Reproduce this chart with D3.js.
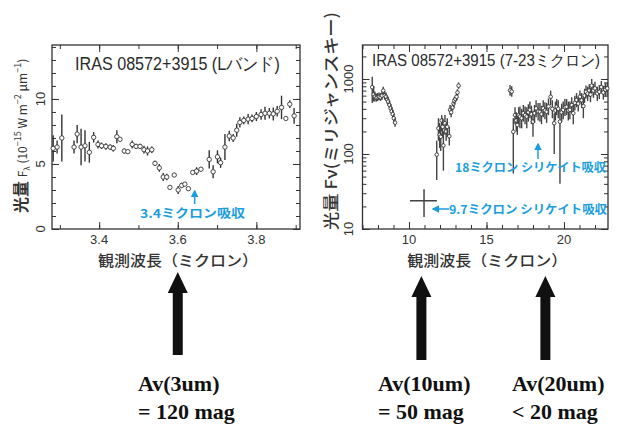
<!DOCTYPE html>
<html lang="ja">
<head>
<meta charset="UTF-8">
<title>IRAS 08572+3915</title>
<script src="https://d3js.org/d3.v7.min.js"></script>
<style>
  body { margin: 0; background: #fff; }
  svg { display: block; }
  .frame { fill: none; stroke: #333; stroke-width: 1.3px; }
  .axis line { stroke: #333; }
  .axis path { display: none; }
  .tl { font-family: "Liberation Sans", Arial, sans-serif; font-size: 13px; fill: #333; }
  .jp { font-family: "Noto Sans CJK JP", sans-serif; fill: #333; }
  .title { font-family: "Liberation Sans Narrow", "Liberation Sans", sans-serif; fill: #2a2a2a; }
  .note { font-family: "Noto Sans CJK JP", sans-serif; font-size: 12px; font-weight: 700; fill: #1a9ee0; }
  .av { font-family: "Liberation Serif", "Times New Roman", serif; font-weight: 700; font-size: 22px; fill: #111; }
</style>
</head>
<body>
<svg width="621" height="428"></svg>
<script>
// L band spectrum (10^-15 W m^-2 um^-1)
const lbWave = [3.283, 3.293, 3.305, 3.336, 3.344, 3.354, 3.364, 3.375, 3.386, 3.397,
  3.406, 3.417, 3.428, 3.436, 3.445, 3.453, 3.464, 3.473, 3.484, 3.494,
  3.504, 3.514, 3.523, 3.534, 3.542, 3.553, 3.563, 3.572, 3.580, 3.591,
  3.601, 3.610, 3.618, 3.627, 3.638, 3.648, 3.659, 3.680, 3.690, 3.701,
  3.709, 3.720, 3.731, 3.741, 3.750, 3.758, 3.768, 3.779, 3.789, 3.800,
  3.812, 3.822, 3.833, 3.843, 3.853, 3.864, 3.875, 3.885, 3.896];
const lbFlux = [6.2, 6.3, 7.0, 6.3, 7.3, 6.3, 6.4, 5.9, 7.05, 6.5,
  6.4, 6.35, 6.3, 6.2, 7.1, 6.9, 6.0, 5.95, 6.5, 6.35,
  6.35, 6.1, 6.0, 6.1, 5.05, 4.7, 4.0, 4.0, 3.2, 4.15,
  3.0, 3.35, 3.45, 3.1, 4.35, 4.45, 4.6, 5.35, 4.4, 5.55,
  5.1, 6.3, 7.15, 7.0, 7.6, 8.2, 8.35, 8.45, 8.5, 8.65,
  8.8, 8.9, 8.9, 8.85, 9.05, 9.35, 8.5, 9.6, 8.7];
const lbErr = [1.0, 0.5, 1.8, 0.5, 0.7, 1.4, 1.2, 0.8, 0.4, 0.3,
  0.25, 0.25, 0.2, 0.25, 0.5, 0.1, 0.2, 0.15, 0.3, 0.2,
  0.2, 0.3, 0.35, 0.25, 0.2, 0.3, 0.3, 0.25, 0.1, 0.15,
  0.3, 0.2, 0.15, 0.1, 0.15, 0.3, 0.15, 0.7, 0.5, 0.5,
  0.4, 1.0, 0.4, 0.3, 0.5, 0.4, 0.3, 0.4, 0.3, 0.35,
  0.4, 0.5, 0.4, 0.5, 0.4, 0.9, 0.1, 0.3, 0.6];

// 7-23 micron spectrum (mJy)
const irWave = [7.63, 7.72, 7.80, 7.90, 7.98, 8.07, 8.17, 8.26, 8.34, 8.43,
  8.52, 8.60, 8.66, 8.74, 8.82, 8.88, 8.95, 9.02, 9.10,
  11.79, 11.90, 11.98, 12.05, 12.11, 12.17, 12.22, 12.32, 12.40, 12.47,
  12.60, 12.65, 12.72, 12.82, 12.88, 12.92, 13.00, 13.07, 13.13, 13.20,
  16.52, 16.63, 16.73, 16.84, 16.92, 16.99, 17.08, 17.16, 17.27, 17.38,
  17.49, 17.60, 17.70, 17.80, 17.90, 18.00, 18.10, 18.20, 18.33, 18.45,
  18.55, 18.66, 18.77, 18.88, 19.00, 19.14, 19.25, 19.37, 19.45, 19.53,
  19.63, 19.74, 19.85, 19.95, 20.06, 20.17, 20.28, 20.38, 20.50, 20.60,
  20.70, 20.81, 20.92, 21.03, 21.14, 21.25, 21.33, 21.42, 21.53, 21.63,
  21.71, 21.79, 21.90, 22.00, 22.15, 22.28, 22.41, 22.54, 22.67, 22.79];
const irFlux = [776, 620, 580, 560, 570, 580, 570, 600, 700, 600,
  580, 530, 500, 450, 406, 370, 340, 300, 262,
  98, 220, 180, 170, 280, 230, 130, 257, 200, 230,
  173, 388, 360, 418, 470, 515, 540, 580, 660, 815,
  705, 680, 198, 330, 280, 244, 330, 315, 300, 350,
  330, 315, 360, 388, 340, 270, 350, 406, 370, 365,
  340, 406, 380, 365, 430, 580, 400, 257, 380, 426,
  400, 270, 360, 388, 420, 426, 380, 388, 450, 350,
  480, 525, 470, 580, 520, 435, 600, 675, 640, 705,
  620, 815, 700, 750, 640, 675, 780, 660, 720, 750];
const irLo = [480, 500, 500, 500, 510, 520, 510, 530, 620, 530,
  510, 470, 440, 400, 360, 330, 300, 260, 230,
  45, 150, 120, 110, 200, 170, 60, 180, 150, 170,
  130, 330, 310, 380, 420, 460, 490, 520, 600, 740,
  600, 580, 55, 250, 200, 180, 250, 220, 220, 270,
  250, 220, 270, 300, 250, 170, 260, 310, 280, 270,
  250, 310, 290, 260, 330, 450, 300, 100, 280, 330,
  300, 40, 270, 290, 320, 330, 280, 290, 350, 250,
  380, 420, 370, 470, 410, 300, 480, 550, 510, 580,
  490, 650, 560, 610, 510, 540, 640, 530, 580, 600];
const irHi = [1070, 800, 680, 640, 650, 660, 650, 680, 790, 680,
  660, 600, 570, 510, 460, 420, 390, 340, 300,
  150, 300, 260, 240, 330, 300, 200, 330, 260, 300,
  230, 450, 420, 460, 520, 570, 600, 650, 730, 900,
  830, 800, 300, 420, 360, 330, 420, 430, 400, 450,
  430, 420, 460, 500, 440, 380, 450, 520, 480, 480,
  440, 520, 490, 480, 550, 700, 520, 350, 500, 540,
  520, 400, 470, 500, 540, 540, 500, 500, 570, 450,
  600, 650, 590, 700, 650, 600, 740, 820, 790, 850,
  770, 1000, 860, 920, 790, 830, 940, 810, 880, 900];

const crossPoint = { wave: 10.97, waveLo: 10.06, waveHi: 11.8, flux: 23.8, fluxLo: 14.4, fluxHi: 34 };

const lbXTicks = [3.4, 3.6, 3.8];
const lbYTicks = [0, 5, 10];
const irXTicks = [10, 15, 20];
const irYTicks = [10, 100, 1000];

const avWaves = [3.6, 10.8, 18.8];
const avPanel = ["lb", "ir", "ir"];
const avLine1 = ["Av(3um)", "Av(10um)", "Av(20um)"];
const avLine2 = ["= 120 mag", "= 50 mag", "< 20 mag"];

const svg = d3.select("svg");
const blue = "#1a9ee0";
const ink = "#333";

svg.append("defs").append("marker")
  .attr("id", "bluehead")
  .attr("viewBox", "0 -5 10 10")
  .attr("refX", 8).attr("refY", 0)
  .attr("markerWidth", 5).attr("markerHeight", 5)
  .attr("orient", "auto")
  .append("path").attr("d", "M0,-5L10,0L0,5Z").attr("fill", blue);

// panel geometry
const lb = { x0: 52, x1: 300, y0: 45, y1: 229 };
const ir = { x0: 362.5, x1: 608, y0: 45, y1: 229 };

const xL = d3.scaleLinear().domain([3.28, 3.911]).range([lb.x0, lb.x1]);
const yL = d3.scaleLinear().domain([0, 14.15]).range([lb.y1, lb.y0]);
const xR = d3.scaleLinear().domain([7, 22.84]).range([ir.x0, ir.x1]);
const yR = d3.scaleLog().domain([10, 2840]).range([ir.y1, ir.y0]);

function frameAxes(p, x, y, xMajor, xMinor, yMajor, yMinor) {
  const g = svg.append("g");
  const w = p.x1 - p.x0, h = p.y1 - p.y0;
  const put = (axis, tx, ty) => g.append("g").attr("class", "axis")
    .attr("transform", `translate(${tx},${ty})`)
    .call(axis.tickFormat("")).selectAll("text").remove();
  put(d3.axisBottom(x).tickValues(xMajor).tickSize(-7), 0, p.y1);
  put(d3.axisBottom(x).tickValues(xMinor).tickSize(-4), 0, p.y1);
  put(d3.axisTop(x).tickValues(xMajor).tickSize(-7), 0, p.y0);
  put(d3.axisTop(x).tickValues(xMinor).tickSize(-4), 0, p.y0);
  put(d3.axisLeft(y).tickValues(yMajor).tickSize(-7), p.x0, 0);
  put(d3.axisLeft(y).tickValues(yMinor).tickSize(-4), p.x0, 0);
  put(d3.axisRight(y).tickValues(yMajor).tickSize(-7), p.x1, 0);
  put(d3.axisRight(y).tickValues(yMinor).tickSize(-4), p.x1, 0);
  g.append("rect").attr("class", "frame")
    .attr("x", p.x0).attr("y", p.y0).attr("width", w).attr("height", h);
  return g;
}

// ---------- left panel ----------
frameAxes(lb, xL, yL, lbXTicks, d3.range(33, 40).map(d => d / 10),
  lbYTicks, d3.range(0, 15));

svg.append("g").selectAll("text").data(lbXTicks).join("text")
  .attr("class", "tl").attr("x", d => xL(d)).attr("y", 244)
  .attr("text-anchor", "middle").text(d => d.toFixed(1));
svg.append("g").selectAll("text").data(lbYTicks).join("text")
  .attr("class", "tl").attr("text-anchor", "middle")
  .attr("transform", d => `translate(45,${yL(d)}) rotate(-90)`)
  .text(d => d);

const lbG = svg.append("g").selectAll("g").data(lbWave).join("g");
lbG.append("line")
  .attr("x1", d => xL(d)).attr("x2", d => xL(d))
  .attr("y1", (d, i) => yL(lbFlux[i] - lbErr[i]))
  .attr("y2", (d, i) => yL(lbFlux[i] + lbErr[i]))
  .attr("stroke", ink).attr("stroke-width", 1.4);
lbG.append("circle")
  .attr("cx", d => xL(d)).attr("cy", (d, i) => yL(lbFlux[i]))
  .attr("r", 2.2).attr("fill", "#fff").attr("stroke", ink).attr("stroke-width", 0.9);

svg.append("text").attr("class", "title")
  .attr("x", 75).attr("y", 70).attr("font-size", 18)
  .attr("textLength", 205).attr("lengthAdjust", "spacingAndGlyphs")
  .text("IRAS 08572+3915 (Lバンド)");

const ylab = svg.append("text").attr("class", "jp")
  .attr("transform", "translate(27,213) rotate(-90)");
ylab.append("tspan").attr("font-size", 16).attr("font-weight", 700).text("光量 ");
ylab.append("tspan").attr("font-size", 12).text("F");
ylab.append("tspan").attr("font-size", 8).attr("dy", 3).text("λ");
ylab.append("tspan").attr("font-size", 12).attr("dy", -3).text(" (10");
ylab.append("tspan").attr("font-size", 9).attr("dy", -6).text("−15");
ylab.append("tspan").attr("font-size", 12).attr("dy", 6).text(" W m");
ylab.append("tspan").attr("font-size", 9).attr("dy", -6).text("−2");
ylab.append("tspan").attr("font-size", 12).attr("dy", 6).text(" μm");
ylab.append("tspan").attr("font-size", 9).attr("dy", -6).text("−1");
ylab.append("tspan").attr("font-size", 12).attr("dy", 6).text(")");

svg.append("text").attr("class", "jp")
  .attr("x", (lb.x0 + lb.x1) / 2 + 2).attr("y", 266).attr("text-anchor", "middle")
  .attr("font-size", 15).attr("font-weight", 500)
  .attr("textLength", 160).attr("lengthAdjust", "spacingAndGlyphs")
  .text("観測波長（ミクロン）");

svg.append("line")
  .attr("x1", xL(3.643)).attr("x2", xL(3.643))
  .attr("y1", 204).attr("y2", 191)
  .attr("stroke", blue).attr("stroke-width", 1.5).attr("marker-end", "url(#bluehead)");
svg.append("text").attr("class", "note")
  .attr("x", 140).attr("y", 218).attr("textLength", 105).attr("lengthAdjust", "spacingAndGlyphs")
  .text("3.4ミクロン吸収");

// ---------- right panel ----------
const yMinorR = [];
[10, 100, 1000].forEach(dec => d3.range(1, 10).forEach(k => { if (k * dec <= 2840) yMinorR.push(k * dec); }));
frameAxes(ir, xR, yR, irXTicks, d3.range(7, 23), irYTicks, yMinorR);

svg.append("g").selectAll("text").data(irXTicks).join("text")
  .attr("class", "tl").attr("x", d => xR(d)).attr("y", 244)
  .attr("text-anchor", "middle").text(d => d);
svg.append("g").selectAll("text").data(irYTicks).join("text")
  .attr("class", "tl").attr("text-anchor", "middle")
  .attr("transform", d => `translate(353,${yR(d)}) rotate(-90)`)
  .text(d => d);

const irG = svg.append("g").selectAll("g").data(irWave).join("g");
irG.append("line")
  .attr("x1", d => xR(d)).attr("x2", d => xR(d))
  .attr("y1", (d, i) => yR(irLo[i]))
  .attr("y2", (d, i) => yR(irHi[i]))
  .attr("stroke", "#444").attr("stroke-width", 1.4);
irG.append("circle")
  .attr("cx", d => xR(d)).attr("cy", (d, i) => yR(irFlux[i]))
  .attr("r", 1.8).attr("fill", "#fff").attr("stroke", ink).attr("stroke-width", 0.9);

// the 10 micron cross
svg.append("line").attr("stroke", "#444").attr("stroke-width", 1.5)
  .attr("x1", xR(crossPoint.waveLo)).attr("x2", xR(crossPoint.waveHi))
  .attr("y1", yR(crossPoint.flux)).attr("y2", yR(crossPoint.flux));
svg.append("line").attr("stroke", "#444").attr("stroke-width", 1.5)
  .attr("x1", xR(crossPoint.wave)).attr("x2", xR(crossPoint.wave))
  .attr("y1", yR(crossPoint.fluxLo)).attr("y2", yR(crossPoint.fluxHi));

svg.append("text").attr("class", "title")
  .attr("x", 372).attr("y", 66).attr("font-size", 16)
  .attr("textLength", 228).attr("lengthAdjust", "spacingAndGlyphs")
  .text("IRAS 08572+3915 (7-23ミクロン)");

svg.append("text").attr("class", "jp")
  .attr("transform", "translate(337,230) rotate(-90)")
  .attr("font-size", 16).attr("font-weight", 500)
  .attr("textLength", 218).attr("lengthAdjust", "spacingAndGlyphs")
  .text("光量 Fν(ミリジャンスキー)");

svg.append("text").attr("class", "jp")
  .attr("x", (ir.x0 + ir.x1) / 2 + 2).attr("y", 266).attr("text-anchor", "middle")
  .attr("font-size", 15).attr("font-weight", 500)
  .attr("textLength", 160).attr("lengthAdjust", "spacingAndGlyphs")
  .text("観測波長（ミクロン）");

svg.append("line")
  .attr("x1", 538).attr("x2", 538).attr("y1", 159).attr("y2", 144)
  .attr("stroke", blue).attr("stroke-width", 1.5).attr("marker-end", "url(#bluehead)");
svg.append("text").attr("class", "note")
  .attr("x", 455).attr("y", 172).attr("textLength", 151).attr("lengthAdjust", "spacingAndGlyphs")
  .text("18ミクロン シリケイト吸収");
svg.append("line")
  .attr("x1", 449).attr("x2", 433).attr("y1", 209).attr("y2", 209)
  .attr("stroke", blue).attr("stroke-width", 1.5).attr("marker-end", "url(#bluehead)");
svg.append("text").attr("class", "note")
  .attr("x", 449).attr("y", 214).attr("textLength", 158).attr("lengthAdjust", "spacingAndGlyphs")
  .text("9.7ミクロン シリケイト吸収");

// ---------- big arrows and extinction labels ----------
const arrowTop = [272, 276, 276];
const arrowBottom = [355, 360, 360];
const arrow = d3.line();
avWaves.forEach((w, i) => {
  const cx = avPanel[i] === "lb" ? xL(w) : xR(w);
  const t = arrowTop[i], b = arrowBottom[i];
  svg.append("path").attr("fill", "#111").attr("d", arrow([
    [cx, t], [cx + 10, t + 21], [cx + 5, t + 21], [cx + 5, b],
    [cx - 5, b], [cx - 5, t + 21], [cx - 10, t + 21]
  ]) + "Z");
});
const avX = [138, 378, 512];
svg.append("g").selectAll("text").data(avLine1).join("text")
  .attr("class", "av").attr("x", (d, i) => avX[i]).attr("y", 391).text(d => d);
svg.append("g").selectAll("text").data(avLine2).join("text")
  .attr("class", "av").attr("x", (d, i) => avX[i]).attr("y", 419).text(d => d);
</script>
</body>
</html>
